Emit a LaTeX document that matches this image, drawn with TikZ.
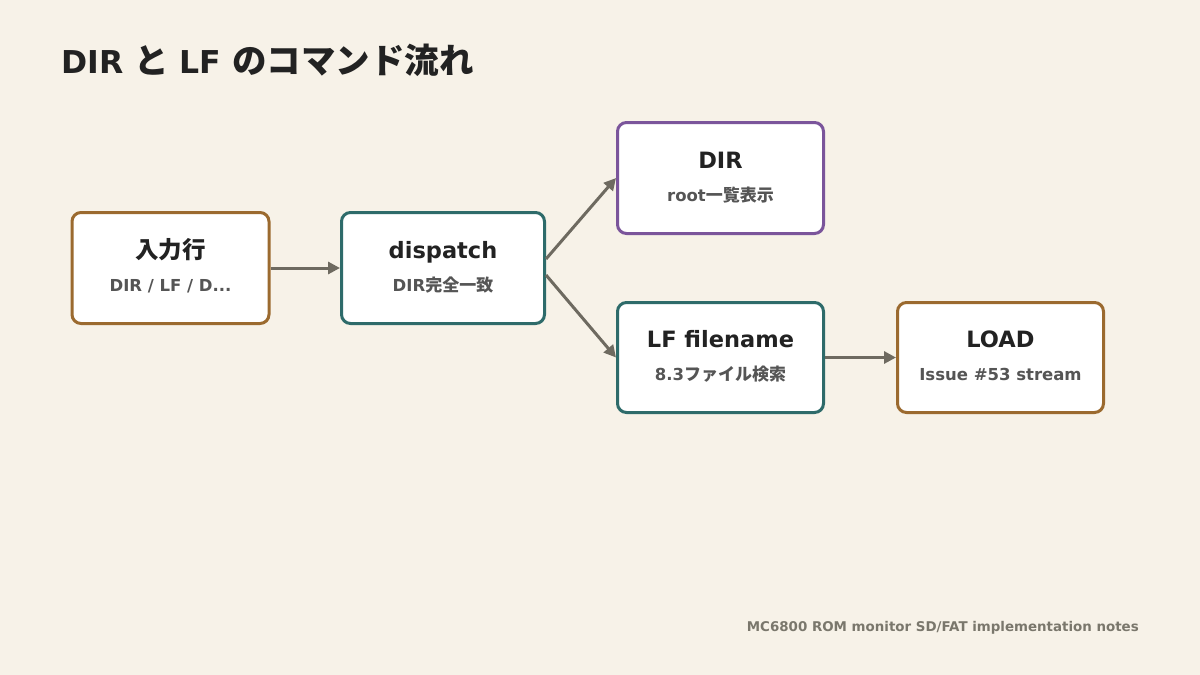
\documentclass[tikz,border=0pt]{standalone}
\usepackage{fontspec}
\setmainfont{DejaVu Sans}
\newfontfamily\jp{Noto Sans CJK JP}
\usetikzlibrary{arrows.meta,calc}
\definecolor{bgc}{HTML}{F7F2E8}
\definecolor{brownc}{HTML}{9B6A2F}
\definecolor{tealc}{HTML}{2E6B6A}
\definecolor{purplec}{HTML}{7B559B}
\definecolor{arrc}{HTML}{6E6A60}
\definecolor{titlec}{HTML}{222222}
\definecolor{subc}{HTML}{555555}
\definecolor{footc}{HTML}{7A776C}
\newcommand\Jt[1]{{\jp\bfseries\fontsize{34.5}{40}\selectfont #1}}
\newcommand\Jn[1]{{\jp\bfseries\fontsize{23.5}{28}\selectfont #1}}
\newcommand\Js[1]{{\jp\bfseries\fontsize{17}{20}\selectfont #1}}
\tikzset{
  box/.style={draw, line width=3pt, rounded corners=9pt, fill=white,
    minimum width=206pt, minimum height=111pt, inner sep=0pt},
  ttl/.style={font=\fontsize{22.5}{27}\selectfont\bfseries, text=titlec, anchor=base, inner sep=0pt},
  sub/.style={font=\fontsize{16.5}{19}\selectfont\bfseries, text=subc, anchor=base, inner sep=0pt},
  arr/.style={draw=arrc, line width=3pt, -{Triangle[length=12pt,width=12pt]}}
}
\begin{document}
\begin{tikzpicture}[x=1pt,y=-1pt]
\fill[bgc] (0,0) rectangle (1200,675);
\useasboundingbox (0,0) rectangle (1200,675);

\node[anchor=base west, inner sep=0pt, text=titlec, font=\fontsize{31.5}{36}\selectfont\bfseries] (title) at (61,73) {DIR \Jt{と} LF \Jt{のコマンド流れ}};

\node[box, draw=brownc, minimum width=197pt] (in) at (170.5,268) {};
\node[box, draw=tealc, minimum width=203pt] (disp) at (443,268) {};
\node[box, draw=purplec] (dir) at (720.5,178) {};
\node[box, draw=tealc, minimum height=110pt] (lf) at (720.5,357.5) {};
\node[box, draw=brownc, minimum height=110pt] (load) at (1000.5,357.5) {};

\node[ttl] (inT) at ($(in.center)+(0,-10)$) {\Jn{入力行}};
\node[sub] (inS) at ($(in.center)+(0,23)$) {DIR / LF / D...};
\node[ttl] (dispT) at ($(disp.center)+(0,-10)$) {dispatch};
\node[sub] (dispS) at ($(disp.center)+(0,23)$) {DIR\Js{完全一致}};
\node[ttl] (dirT) at ($(dir.center)+(0,-10)$) {DIR};
\node[sub] (dirS) at ($(dir.center)+(0,23)$) {root\Js{一覧表示}};
\node[ttl] (lfT) at ($(lf.center)+(0,-10)$) {LF filename};
\node[sub] (lfS) at ($(lf.center)+(0,23)$) {8.3\Js{ファイル検索}};
\node[ttl] (loadT) at ($(load.center)+(0,-10)$) {LOAD};
\node[sub] (loadS) at ($(load.center)+(0,23)$) {Issue \#53 stream};

\draw[arr] (in.east) -- (disp.west);
\draw[arr] ($(disp.east)+(0,-9)$) -- (dir.west);
\draw[arr] ($(disp.east)+(0,7)$) -- (lf.west);
\draw[arr] (lf.east) -- (load.west);

\node[anchor=base east, inner sep=0pt, text=footc, font=\fontsize{13.4}{16}\selectfont\bfseries] (foot) at (1139,631) {MC6800 ROM monitor SD/FAT implementation notes};
\end{tikzpicture}
\end{document}
